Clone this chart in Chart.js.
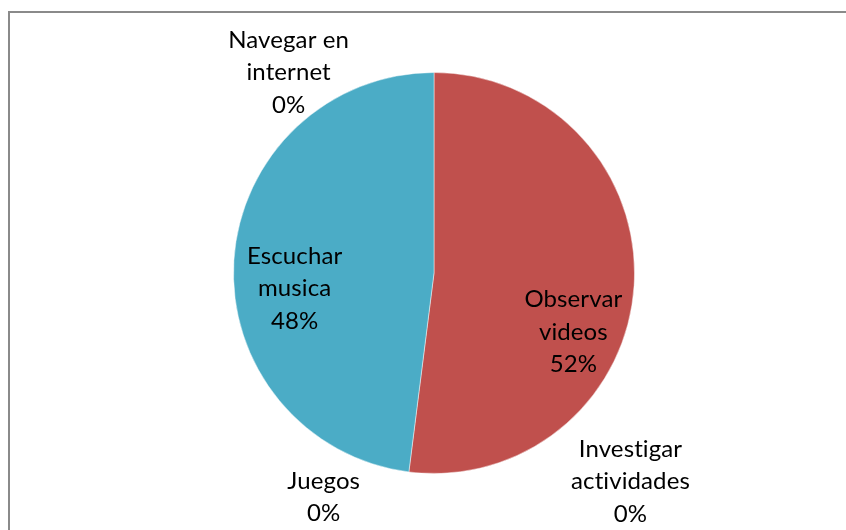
<!DOCTYPE html>
<html>
<head>
<meta charset="utf-8">
<script src="https://cdn.jsdelivr.net/npm/chart.js@4/dist/chart.umd.min.js"></script>
<style>
html,body{margin:0;padding:0;background:#fff;}
#wrap{width:846px;height:530px;position:relative;}
</style>
</head>
<body>
<div id="wrap"><canvas id="c" width="846" height="530"></canvas></div>
<script>
// Data
const categories = ['Navegar en internet', 'Observar videos', 'Investigar actividades', 'Juegos', 'Escuchar musica'];
const categoryLines = [['Navegar en', 'internet'], ['Observar', 'videos'], ['Investigar', 'actividades'], ['Juegos'], ['Escuchar', 'musica']];
const values = [0, 52, 0, 0, 48];
const sliceColors = ['#4F81BD', '#C0504D', '#9BBB59', '#8064A2', '#4BACC6'];

// Label placement (layout): block centre relative to pie centre, in radius units
const labelPlacement = [
  [-0.725, -1.0],
  [0.695, 0.295],
  [0.98, 1.04],
  [-0.55, 1.1175],
  [-0.695, 0.0775]
];

const FONT = '24px Lato, "Open Sans", sans-serif';
const LINE_H = 32.5;

const framePlugin = {
  id: 'frame',
  beforeDraw(chart) {
    const ctx = chart.ctx;
    ctx.save();
    ctx.fillStyle = '#ffffff';
    ctx.fillRect(0, 0, chart.width, chart.height);
    ctx.strokeStyle = '#8a8a8a';
    ctx.lineWidth = 2;
    ctx.strokeRect(9, 12, chart.width + 20, chart.height + 20);
    ctx.restore();
  }
};

const labelPlugin = {
  id: 'sliceLabels',
  afterDatasetsDraw(chart) {
    const ctx = chart.ctx;
    const meta = chart.getDatasetMeta(0);
    const ds = chart.data.datasets[0].data;
    const total = ds.reduce((a, b) => a + b, 0);
    ctx.save();
    ctx.font = FONT;
    if ('letterSpacing' in ctx) ctx.letterSpacing = '0.1px';
    ctx.fillStyle = '#000000';
    ctx.textAlign = 'center';
    ctx.textBaseline = 'middle';
    meta.data.forEach((arc, i) => {
      const r = arc.outerRadius;
      const cx = arc.x + labelPlacement[i][0] * r;
      const cy = arc.y + labelPlacement[i][1] * r;
      const pct = Math.round(ds[i] / total * 100) + '%';
      const lines = categoryLines[i].concat([pct]);
      const start = cy - (lines.length - 1) / 2 * LINE_H;
      lines.forEach((t, k) => ctx.fillText(t, cx, start + k * LINE_H));
    });
    ctx.restore();
  }
};

new Chart(document.getElementById('c'), {
  type: 'pie',
  data: {
    labels: categories,
    datasets: [{
      data: values,
      backgroundColor: sliceColors,
      borderColor: 'rgba(255,255,255,0.45)',
      borderWidth: 1
    }]
  },
  options: {
    responsive: false,
    animation: false,
    rotation: 0,
    layout: { padding: { top: 72, bottom: 56, left: 233, right: 211 } },
    plugins: {
      legend: { display: false },
      tooltip: { enabled: false },
      title: { display: false }
    }
  },
  plugins: [framePlugin, labelPlugin]
});
</script>
</body>
</html>
